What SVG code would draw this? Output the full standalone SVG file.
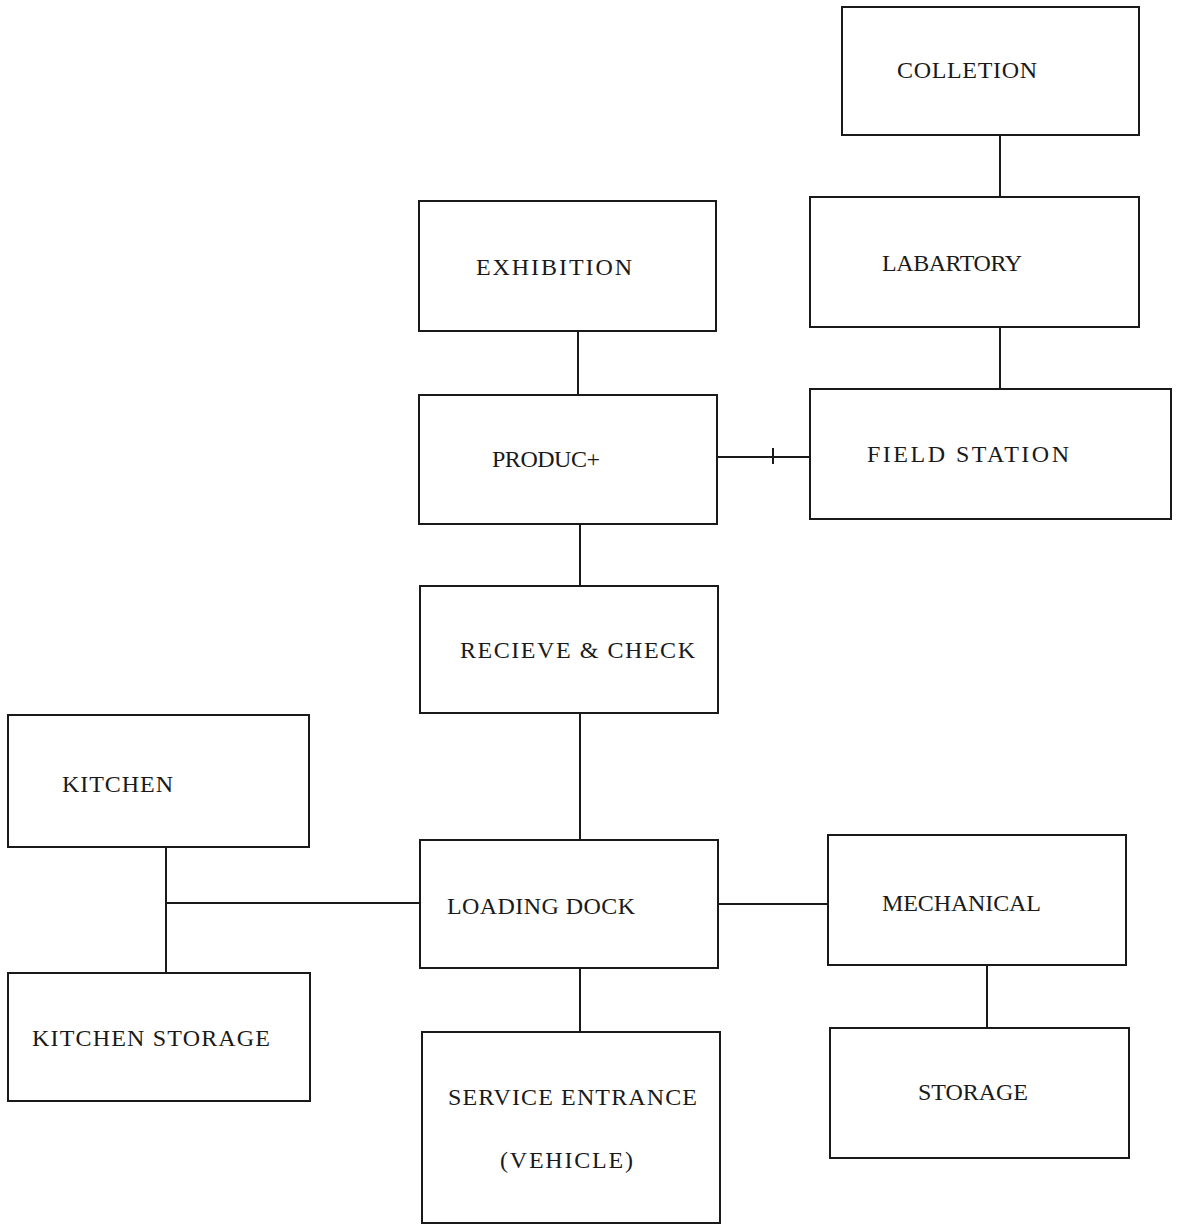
<svg xmlns="http://www.w3.org/2000/svg" width="1183" height="1225" viewBox="0 0 1183 1225">
<style>
.box{fill:none;stroke:#1a1a1a;stroke-width:2}
.lbl{font-family:"Liberation Serif",serif;font-size:24px;fill:#1a1a1a}
.con{stroke:#1a1a1a;stroke-width:2;fill:none}
</style>
<rect width="1183" height="1225" fill="#ffffff"/>
<g id="connectors">
<line class="con" x1="1000" y1="135" x2="1000" y2="197"/>
<line class="con" x1="1000" y1="327" x2="1000" y2="389"/>
<line class="con" x1="578" y1="331" x2="578" y2="395"/>
<line class="con" x1="717" y1="457" x2="810" y2="457"/>
<line class="con" x1="773" y1="448" x2="773" y2="464"/>
<line class="con" x1="580" y1="524" x2="580" y2="586"/>
<line class="con" x1="580" y1="713" x2="580" y2="840"/>
<line class="con" x1="166" y1="847" x2="166" y2="973"/>
<line class="con" x1="166" y1="903" x2="420" y2="903"/>
<line class="con" x1="718" y1="904" x2="828" y2="904"/>
<line class="con" x1="580" y1="968" x2="580" y2="1032"/>
<line class="con" x1="987" y1="965" x2="987" y2="1028"/>
</g>
<g id="colletion"><rect class="box" x="842" y="7" width="297" height="128"/><text class="lbl" x="897" y="78" textLength="140">COLLETION</text></g>
<g id="labartory"><rect class="box" x="810" y="197" width="329" height="130"/><text class="lbl" x="882" y="271" textLength="140">LABARTORY</text></g>
<g id="exhibition"><rect class="box" x="419" y="201" width="297" height="130"/><text class="lbl" x="476" y="275" textLength="156">EXHIBITION</text></g>
<g id="product"><rect class="box" x="419" y="395" width="298" height="129"/><text class="lbl" x="492" y="467" textLength="108">PRODUC+</text></g>
<g id="field-station"><rect class="box" x="810" y="389" width="361" height="130"/><text class="lbl" x="867" y="462" textLength="202">FIELD STATION</text></g>
<g id="recieve-check"><rect class="box" x="420" y="586" width="298" height="127"/><text class="lbl" x="460" y="658" textLength="235">RECIEVE &amp; CHECK</text></g>
<g id="kitchen"><rect class="box" x="8" y="715" width="301" height="132"/><text class="lbl" x="62" y="792" textLength="111">KITCHEN</text></g>
<g id="loading-dock"><rect class="box" x="420" y="840" width="298" height="128"/><text class="lbl" x="447" y="914" textLength="188">LOADING DOCK</text></g>
<g id="mechanical"><rect class="box" x="828" y="835" width="298" height="130"/><text class="lbl" x="882" y="911" textLength="159">MECHANICAL</text></g>
<g id="kitchen-storage"><rect class="box" x="8" y="973" width="302" height="128"/><text class="lbl" x="32" y="1046" textLength="238">KITCHEN STORAGE</text></g>
<g id="service-entrance"><rect class="box" x="422" y="1032" width="298" height="191"/><text class="lbl" x="448" y="1105" textLength="249">SERVICE ENTRANCE</text><text class="lbl" x="500" y="1168" textLength="133">(VEHICLE)</text></g>
<g id="storage"><rect class="box" x="830" y="1028" width="299" height="130"/><text class="lbl" x="918" y="1100" textLength="110">STORAGE</text></g>
</svg>
